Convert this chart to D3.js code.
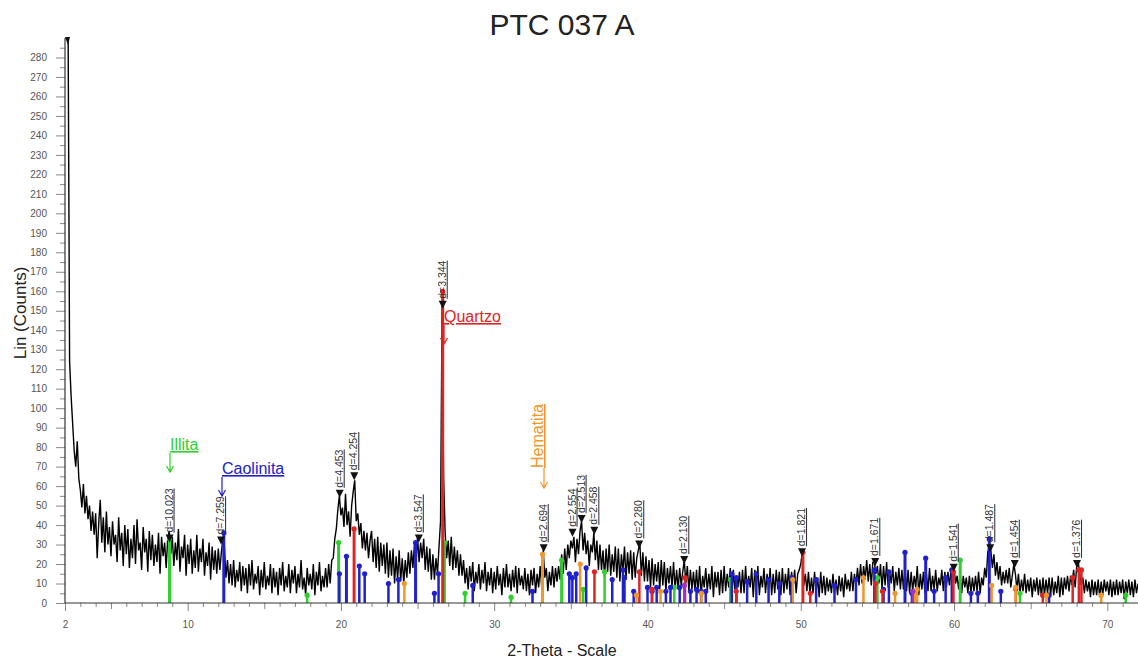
<!DOCTYPE html>
<html>
<head>
<meta charset="utf-8">
<script src="https://cdn.jsdelivr.net/npm/d3@7"></script>
<style>
  body { margin: 0; background: #fff; }
  svg text { font-family: "Liberation Sans", Arial, sans-serif; }
</style>
</head>
<body>
<div class="container"></div>
<script>
const WIDTH = 1138;
const HEIGHT = 663;
const MARGIN = { top: 38, right: 0, bottom: 60, left: 65 };

// measured pattern: counts every 0.1 deg from 2.0 to 72.0 (one row per degree)
const START_ANGLE = 2.0;
const STEP_ANGLE = 0.1;
const counts = [
  null, null, 300, 124, 106, 92, 78, 70, 83, 64,
  58, 49, 61, 46, 55, 43, 50, 37, 47, 35,
  46, 23, 41, 53, 31, 44, 26, 47, 30, 39,
  24, 42, 30, 35, 21, 44, 27, 36, 19, 40,
  25, 38, 18, 33, 23, 40, 20, 43, 27, 31,
  17, 39, 26, 33, 16, 37, 22, 35, 19, 30,
  21, 36, 15, 34, 24, 31, 18, 33, 37, 25,
  34, 19, 31, 22, 38, 16, 29, 23, 35, 14,
  30, 20, 33, 15, 27, 18, 35, 16, 28, 21,
  33, 14, 26, 19, 31, 12, 29, 17, 27, 15,
  28, 17, 26, 33, 29, 13, 22, 10, 20, 9,
  22, 8, 17, 11, 21, 6, 19, 9, 18, 5,
  20, 9, 22, 7, 15, 10, 19, 4, 17, 8,
  21, 7, 14, 9, 20, 5, 18, 8, 16, 4,
  18, 9, 21, 6, 14, 8, 20, 5, 17, 10,
  19, 5, 15, 8, 22, 7, 13, 4, 18, 9,
  15, 7, 20, 4, 16, 9, 21, 6, 14, 8,
  18, 8, 20, 10, 22, 23, 33, 38, 48, 55,
  45, 49, 39, 56, 40, 47, 34, 50, 57, 63,
  42, 46, 35, 41, 28, 37, 27, 36, 23, 32,
  37, 21, 33, 18, 34, 16, 31, 19, 30, 15,
  31, 13, 27, 14, 28, 10, 24, 12, 27, 11,
  23, 10, 22, 13, 26, 15, 27, 18, 31, 20,
  34, 21, 31, 23, 33, 17, 29, 16, 28, 12,
  25, 12, 23, 15, 29, 42, 153, 64, 36, 23,
  32, 19, 34, 17, 29, 18, 27, 14, 25, 14,
  22, 10, 18, 7, 19, 11, 21, 6, 16, 10,
  20, 7, 17, 10, 21, 6, 16, 9, 18, 5,
  16, 7, 19, 9, 15, 4, 18, 8, 20, 8,
  15, 6, 17, 8, 19, 5, 18, 9, 14, 7,
  18, 6, 15, 4, 17, 9, 18, 5, 15, 8,
  19, 8, 27, 13, 18, 6, 16, 9, 19, 8,
  18, 11, 19, 12, 25, 15, 28, 17, 30, 23,
  32, 28, 34, 21, 33, 25, 37, 42, 27, 36,
  25, 32, 19, 30, 26, 36, 22, 32, 17, 30,
  17, 27, 13, 28, 16, 30, 14, 25, 16, 29,
  13, 28, 11, 25, 16, 29, 12, 26, 15, 27,
  12, 26, 13, 23, 27, 31, 14, 26, 11, 24,
  11, 22, 8, 23, 9, 20, 11, 21, 7, 22,
  9, 21, 6, 18, 10, 19, 8, 21, 7, 17,
  7, 18, 9, 16, 22, 10, 19, 6, 17, 7,
  16, 6, 17, 5, 19, 4, 14, 8, 18, 6,
  15, 7, 19, 3, 16, 8, 16, 4, 17, 5,
  19, 6, 15, 8, 18, 3, 17, 7, 14, 8,
  16, 5, 17, 5, 19, 6, 14, 8, 18, 3,
  17, 7, 19, 4, 14, 8, 18, 5, 15, 7,
  18, 4, 15, 5, 17, 7, 16, 4, 18, 5,
  15, 7, 18, 4, 16, 8, 17, 5, 15, 17,
  20, 26, 9, 15, 6, 16, 5, 13, 5, 16,
  6, 13, 3, 16, 5, 14, 4, 13, 6, 12,
  5, 15, 5, 12, 4, 14, 6, 13, 3, 15,
  7, 12, 6, 16, 6, 15, 9, 18, 9, 20,
  10, 19, 12, 22, 11, 20, 9, 21, 21, 15,
  19, 10, 20, 7, 19, 9, 21, 8, 16, 10,
  19, 6, 16, 9, 18, 7, 17, 7, 18, 6,
  17, 5, 16, 6, 14, 8, 19, 4, 15, 7,
  16, 5, 15, 6, 18, 6, 14, 7, 17, 6,
  13, 9, 17, 6, 16, 8, 16, 9, 17, 11,
  18, 10, 14, 7, 15, 5, 14, 8, 13, 5,
  14, 5, 13, 6, 14, 6, 16, 5, 13, 9,
  18, 13, 26, 30, 27, 18, 25, 14, 21, 12,
  19, 9, 16, 10, 17, 10, 18, 8, 14, 20,
  15, 7, 15, 5, 12, 6, 15, 5, 12, 6,
  13, 3, 12, 6, 13, 4, 12, 3, 13, 4,
  12, 5, 13, 4, 13, 4, 11, 5, 14, 3,
  13, 4, 13, 7, 14, 6, 14, 9, 17, 8,
  19, 21, 15, 9, 13, 5, 12, 6, 11, 3,
  12, 4, 11, 4, 12, 3, 11, 4, 12, 6,
  11, 4, 12, 3, 11, 4, 12, 4, 11, 5,
  12, 2, 11, 5, 12, 4, 11, 3, 12, 5,
  10
];

// reference sticks [2theta, counts]
const illitaSticks = [
  [8.82, 33], [17.8, 4], [19.85, 31], [26.75, 31], [28.1, 5], [31.1, 3],
  [34.4, 22], [35.8, 7], [37.2, 16], [41.75, 8], [45.4, 12], [55.0, 13],
  [60.4, 22], [64.3, 5], [71.2, 4]
];
const caolinitaSticks = [
  [12.36, 36], [19.9, 15], [20.36, 24], [21.2, 19], [21.55, 15], [23.1, 10],
  [23.75, 12], [24.87, 31], [26.1, 5], [26.37, 15], [28.6, 9], [32.5, 6],
  [34.9, 15], [35.1, 13], [35.35, 15], [36.0, 18], [37.7, 12], [38.4, 17],
  [38.5, 13], [39.1, 6], [40.0, 8], [40.3, 6], [40.6, 8], [41.2, 6],
  [41.5, 8], [42.1, 8], [42.8, 6], [43.2, 7], [43.5, 6], [43.8, 6],
  [45.5, 15], [45.8, 13], [46.5, 11], [47.1, 15], [47.9, 12], [48.6, 10],
  [49.4, 13], [51.0, 12], [52.2, 9], [53.6, 12], [54.8, 17], [55.4, 7],
  [55.75, 16], [56.8, 26], [57.25, 5], [58.15, 23], [58.7, 6], [59.45, 13],
  [59.85, 17], [61.1, 5], [61.55, 5], [62.3, 33], [63.05, 6], [66.2, 4]
];
const quartzoSticks = [
  [20.86, 38], [26.64, 160], [36.54, 16], [39.47, 16], [40.29, 7], [42.45, 13],
  [45.79, 6], [50.14, 26], [50.62, 5], [54.87, 10], [55.33, 6], [59.96, 16],
  [64.03, 7], [65.79, 4], [67.74, 13], [68.14, 17], [68.31, 17]
];
const hematitaSticks = [
  [24.14, 10], [33.15, 25], [35.61, 20], [39.28, 4], [40.85, 6], [43.52, 5],
  [49.48, 12], [54.09, 13], [56.15, 5], [57.43, 6], [57.59, 7], [62.45, 9],
  [64.02, 8], [66.03, 4], [69.6, 4]
];
const otherSticks = [[42.4, 9], [57.3, 6]];

// peak picks
const peakLabels = ["d=10.023", "d=7.259", "d=4.453", "d=4.254", "d=3.547", "d=3.344",
  "d=2.694", "d=2.554", "d=2.513", "d=2.458", "d=2.280", "d=2.130", "d=1.821",
  "d=1.671", "d=1.541", "d=1.487", "d=1.454", "d=1.376"];
const peakAngles = [8.82, 12.18, 19.92, 20.87, 25.08, 26.64, 33.23, 35.11, 35.70, 36.53,
  39.46, 42.40, 50.08, 54.86, 59.98, 62.36, 63.96, 68.02];
const peakCounts = [31, 30, 54, 63, 31, 151, 26, 34, 41, 35, 28, 20, 24, 19, 16, 26, 18, 18];

const yMajorTicks = d3.range(0, 281, 10);
const xMajorTicks = [2, 10, 20, 30, 40, 50, 60, 70];

const phases = [
  { name: "Illita", color: "#2ecf2e", sticks: illitaSticks },
  { name: "Caolinita", color: "#2020cc", sticks: caolinitaSticks },
  { name: "Quartzo", color: "#e02424", sticks: quartzoSticks },
  { name: "Hematita", color: "#f0962a", sticks: hematitaSticks },
  { name: "", color: "#9a35c8", sticks: otherSticks }
];

const xScale = d3.scaleLinear().domain([2, 72]).range([MARGIN.left, WIDTH - MARGIN.right]);
const yScale = d3.scaleLinear().domain([0, 290]).range([HEIGHT - MARGIN.bottom, MARGIN.top]);

const svg = d3.select(".container")
  .append("svg")
  .attr("viewBox", [0, 0, WIDTH, HEIGHT])
  .attr("width", WIDTH)
  .attr("height", HEIGHT);

svg.append("defs").append("clipPath").attr("id", "plot")
  .append("rect")
  .attr("x", MARGIN.left)
  .attr("y", MARGIN.top)
  .attr("width", WIDTH - MARGIN.left)
  .attr("height", HEIGHT - MARGIN.bottom - MARGIN.top);

// title
svg.append("text")
  .attr("x", 562).attr("y", 35)
  .attr("text-anchor", "middle")
  .attr("font-size", 30)
  .attr("fill", "#222")
  .text("PTC 037 A");

// axes
const yAxisMajor = (g) => g
  .attr("transform", `translate(${MARGIN.left},0)`)
  .call(d3.axisLeft(yScale).tickValues(yMajorTicks).tickSize(9).tickPadding(9).tickSizeOuter(0))
  .call((g) => g.select(".domain").remove())
  .call((g) => g.selectAll("line").attr("stroke", "#888"))
  .call((g) => g.selectAll("text").attr("fill", "#555").attr("font-size", 10)
    .attr("font-family", "Liberation Sans, Arial, sans-serif"));
const yAxisMinor = (g) => g
  .attr("transform", `translate(${MARGIN.left},0)`)
  .call(d3.axisLeft(yScale).tickValues(d3.range(5, 290, 10)).tickSize(5).tickFormat("").tickSizeOuter(0))
  .call((g) => g.select(".domain").remove())
  .call((g) => g.selectAll("line").attr("stroke", "#888"));

const xAxisMajor = (g) => g
  .attr("transform", `translate(0,${HEIGHT - MARGIN.bottom})`)
  .call(d3.axisBottom(xScale).tickValues(xMajorTicks).tickSize(8).tickPadding(10).tickFormat(d3.format("d")).tickSizeOuter(0))
  .call((g) => g.select(".domain").remove())
  .call((g) => g.selectAll("line").attr("stroke", "#888"))
  .call((g) => g.selectAll("text").attr("fill", "#555").attr("font-size", 10)
    .attr("font-family", "Liberation Sans, Arial, sans-serif"));
const xAxisMinor = (g) => g
  .attr("transform", `translate(0,${HEIGHT - MARGIN.bottom})`)
  .call(d3.axisBottom(xScale).tickValues(d3.range(3, 73).filter((d) => d % 10 !== 0))
    .tickSize(4).tickFormat("").tickSizeOuter(0))
  .call((g) => g.select(".domain").remove())
  .call((g) => g.selectAll("line").attr("stroke", "#888")
    .attr("y2", (d) => (d % 5 === 0 ? 6 : 4)));

svg.append("g").call(yAxisMinor);
svg.append("g").call(yAxisMajor);
svg.append("g").call(xAxisMinor);
svg.append("g").call(xAxisMajor);

// pattern
const pattern = counts.map((c, i) => [START_ANGLE + i * STEP_ANGLE, c]);
svg.append("path")
  .datum(pattern)
  .attr("clip-path", "url(#plot)")
  .attr("fill", "none")
  .attr("stroke", "#000")
  .attr("stroke-width", 1.4)
  .attr("stroke-linejoin", "bevel")
  .attr("d", d3.line()
    .defined((d) => d[1] != null)
    .x((d) => xScale(d[0]))
    .y((d) => yScale(d[1])));

// sticks
for (const phase of phases) {
  const g = svg.append("g").attr("stroke", phase.color).attr("fill", phase.color);
  g.selectAll("line")
    .data(phase.sticks)
    .join("line")
    .attr("x1", (d) => xScale(d[0]))
    .attr("x2", (d) => xScale(d[0]))
    .attr("y1", yScale(0))
    .attr("y2", (d) => yScale(d[1]))
    .attr("stroke-width", (d) => (d[1] > 20 ? 3 : 2.5));
  g.selectAll("circle")
    .data(phase.sticks)
    .join("circle")
    .attr("cx", (d) => xScale(d[0]))
    .attr("cy", (d) => yScale(d[1]))
    .attr("r", 2.6)
    .attr("stroke", "none");
}

// axis lines
svg.append("line")
  .attr("x1", MARGIN.left).attr("x2", MARGIN.left)
  .attr("y1", yScale(0)).attr("y2", MARGIN.top)
  .attr("stroke", "#333").attr("stroke-width", 1.2);
svg.append("line")
  .attr("x1", MARGIN.left).attr("x2", WIDTH)
  .attr("y1", yScale(0)).attr("y2", yScale(0))
  .attr("stroke", "#333").attr("stroke-width", 1.2);
svg.append("path")
  .attr("d", `M${MARGIN.left},${MARGIN.top - 1} L${MARGIN.left + 5},${MARGIN.top - 1} L${MARGIN.left + 3},${MARGIN.top + 7} Z`)
  .attr("fill", "#111");

// peak markers
const peaks = peakLabels.map((label, i) => ({ label, angle: peakAngles[i], count: peakCounts[i] }));
const pk = svg.append("g");
pk.selectAll("path")
  .data(peaks)
  .join("path")
  .attr("fill", "#111")
  .attr("d", (d) => {
    const px = xScale(d.angle), py = yScale(d.count);
    return `M${px - 4},${py - 8} L${px + 4},${py - 8} L${px},${py} Z`;
  });
pk.selectAll("text")
  .data(peaks)
  .join("text")
  .attr("transform", (d) => `translate(${xScale(d.angle) + 3},${yScale(d.count) - 10}) rotate(-90)`)
  .attr("font-size", 10.5)
  .attr("fill", "#333")
  .attr("text-decoration", "underline")
  .text((d) => d.label);

// phase annotations
function note(x, y, label, color, arrowLen) {
  const g = svg.append("g");
  g.append("text")
    .attr("x", x).attr("y", y)
    .attr("font-size", 16)
    .attr("fill", color)
    .attr("text-decoration", "underline")
    .text(label);
  g.append("path")
    .attr("fill", "none").attr("stroke", color).attr("stroke-width", 1.2)
    .attr("d", `M${x},${y + 3} V${y + 3 + arrowLen} M${x - 3.5},${y + arrowLen - 3} L${x},${y + 3 + arrowLen} L${x + 3.5},${y + arrowLen - 3}`);
}
note(170, 450, "Illita", "#2ecf2e", 19);
note(222, 474, "Caolinita", "#2020cc", 19);
note(444, 322, "Quartzo", "#e02424", 19);

// Hematita: vertical label
const hx = 543, hy = 468;
svg.append("text")
  .attr("transform", `translate(${hx},${hy}) rotate(-90)`)
  .attr("font-size", 16)
  .attr("fill", "#f0962a")
  .attr("text-decoration", "underline")
  .text("Hematita");
svg.append("path")
  .attr("fill", "none").attr("stroke", "#f0962a").attr("stroke-width", 1.2)
  .attr("d", `M${hx + 1},${hy} V${hy + 20} M${hx - 2.5},${hy + 14} L${hx + 1},${hy + 20} L${hx + 4.5},${hy + 14}`);

// axis titles
svg.append("text")
  .attr("transform", `translate(26,313) rotate(-90)`)
  .attr("text-anchor", "middle")
  .attr("font-size", 17)
  .attr("fill", "#222")
  .text("Lin (Counts)");
svg.append("text")
  .attr("x", 562).attr("y", 656)
  .attr("text-anchor", "middle")
  .attr("font-size", 16)
  .attr("fill", "#222")
  .text("2-Theta - Scale");
</script>
</body>
</html>
